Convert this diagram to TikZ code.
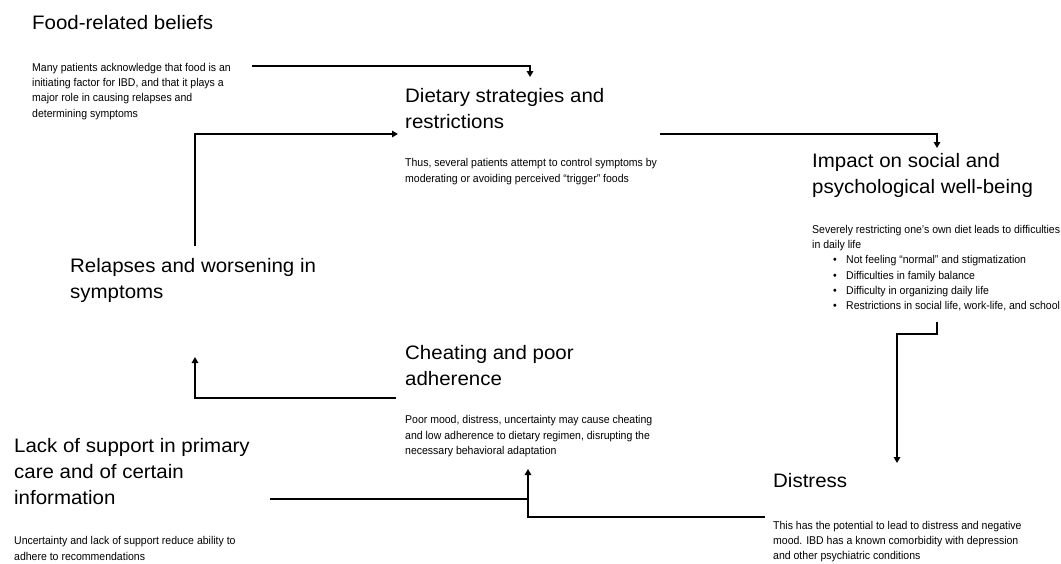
\documentclass[tikz,border=0pt]{standalone}
\usepackage{fontspec}
\setmainfont{Liberation Sans}
\newfontfamily\titlefont[FakeStretch=1.05]{Liberation Sans}
\newfontfamily\narrowfont[FakeStretch=0.93]{Liberation Sans}
\usetikzlibrary{arrows.meta}
\tikzset{
  title/.style={anchor=north west, inner sep=0pt, align=left, font=\titlefont\fontsize{19.5}{26}\selectfont},
  body/.style={anchor=north west, inner sep=0pt, align=left, font=\narrowfont\fontsize{11.3}{15.3}\selectfont},
  conn/.style={line width=2pt, line join=miter},
  arr/.style={conn, -{Triangle[length=6pt,width=6.5pt]}},
}
\newcommand{\bul}{\hspace*{21pt}\makebox[13pt][l]{\textbullet}}
\begin{document}
\begin{tikzpicture}[x=1pt,y=-1pt]
\useasboundingbox (0,0) rectangle (1061,563);
% titles
\node[title] (foodT) at (32,15) {Food-related beliefs};
\node[title] (dietT) at (405,88) {Dietary strategies and\\restrictions};
\node[title] (impT) at (812,153) {Impact on social and\\psychological well-being};
\node[title] (relT) at (70,258) {Relapses and worsening in\\symptoms};
\node[title] (cheatT) at (405,345) {Cheating and poor\\adherence};
\node[title] (lackT) at (14,438) {Lack of support in primary\\care and of certain\\information};
\node[title] (disT) at (773,473) {Distress};
% bodies
\node[body] (foodB) at (32,63) {Many patients acknowledge that food is an\\initiating factor for IBD, and that it plays a\\major role in causing relapses and\\determining symptoms};
\node[body] (dietB) at (405,158.5) {Thus, several patients attempt to control symptoms by\\moderating or avoiding perceived “trigger” foods};
\node[body] (impB) at (812,225) {Severely restricting one’s own diet leads to difficulties\\in daily life\\\bul Not feeling “normal” and stigmatization\\\bul Difficulties in family balance\\\bul Difficulty in organizing daily life\\\bul Restrictions in social life, work-life, and school};
\node[body] (cheatB) at (405,415.5) {Poor mood, distress, uncertainty may cause cheating\\and low adherence to dietary regimen, disrupting the\\necessary behavioral adaptation};
\node[body] (lackB) at (14,536.5) {Uncertainty and lack of support reduce ability to\\adhere to recommendations};
\node[body] (disB) at (773,521) {This has the potential to lead to distress and negative\\mood. IBD has a known comorbidity with depression\\and other psychiatric conditions};
% connector coordinates
\coordinate (c1s) at (252,66);
\coordinate (c1e) at (530,77);
\coordinate (c2s) at (195,246);
\coordinate (c2e) at (398,134);
\coordinate (c3s) at (660,134);
\coordinate (c3e) at (937,148);
\coordinate (c4s) at (937,322);
\coordinate (c4m) at (897,334);
\coordinate (c4e) at (897,463);
\coordinate (c5s) at (765,517);
\coordinate (c5e) at (528,469);
\coordinate (c6s) at (270,499);
\coordinate (c7s) at (396,398);
\coordinate (c7e) at (195,357);
% connectors
\draw[arr] (c1s) -| (c1e);
\draw[arr] (c2s) |- (c2e);
\draw[arr] (c3s) -| (c3e);
\draw[arr] (c4s) |- (c4m) -- (c4e);
\draw[arr] (c5s) -| (c5e);
\draw[conn] (c6s) -- (c6s -| c5e);
\draw[arr] (c7s) -| (c7e);
\end{tikzpicture}
\end{document}
